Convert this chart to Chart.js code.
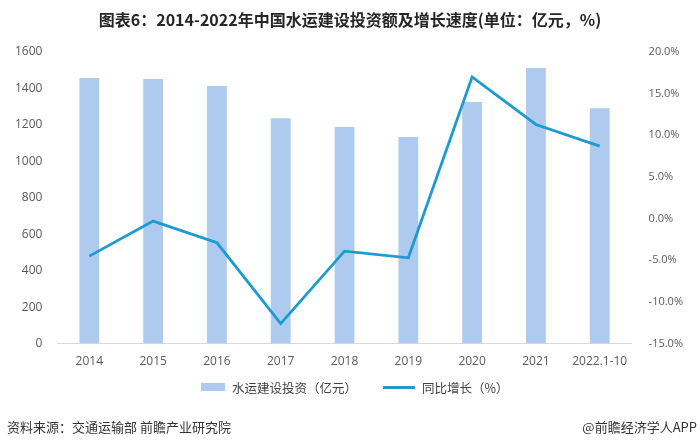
<!DOCTYPE html>
<html>
<head>
<meta charset="utf-8">
<script src="https://cdn.jsdelivr.net/npm/chart.js@4"></script>
<style>
    body { margin: 0; background: #fff; }
    #wrap { position: relative; width: 700px; height: 446px; font-family: "Noto Sans CJK SC", sans-serif; }
    #chart { position: absolute; left: 0; top: 0; }
    #title { position: absolute; top: 7px; left: 0; width: 700px; text-align: center; font-size: 16px; font-weight: bold; color: #262626; }
    .foot { position: absolute; top: 417px; font-size: 13px; color: #333; }
    #src { left: 7px; }
    #app { right: 3px; }
    #legend { position: absolute; top: 378px; left: 201px; height: 18px; display: flex; align-items: center; font-size: 12.5px; color: #404040; white-space: nowrap; }
    .swatch { display: inline-block; margin-right: 7px; }
    .item { display: flex; align-items: center; }
</style>
</head>
<body>
<div id="wrap">
    <canvas id="chart" width="700" height="446"></canvas>
    <div id="title">图表6：2014-2022年中国水运建设投资额及增长速度(单位：亿元，%)</div>
    <div id="legend"></div>
    <div class="foot" id="src">资料来源：交通运输部 前瞻产业研究院</div>
    <div class="foot" id="app">@前瞻经济学人APP</div>
</div>
<script>
// categories and values
const years = ['2014', '2015', '2016', '2017', '2018', '2019', '2020', '2021', '2022.1-10'];
const investment = [1457, 1452, 1413, 1237, 1188, 1133, 1325, 1512, 1292]; // 亿元
const growth = [-4.5, -0.3, -2.9, -12.6, -3.9, -4.7, 17.0, 11.3, 8.7]; // %

const barColor = '#aecaef';
const lineColor = '#1c9bd1';
const tickFont = { family: '"Open Sans", sans-serif', size: 12 };

const ctx = document.getElementById('chart').getContext('2d');
const chart = new Chart(ctx, {
    data: {
        labels: years,
        datasets: [{
            type: 'bar',
            label: '水运建设投资（亿元）',
            data: investment,
            backgroundColor: barColor,
            borderColor: barColor,
            barPercentage: 0.62,
            categoryPercentage: 0.5,
            yAxisID: 'y',
            order: 1
        }, {
            type: 'line',
            label: '同比增长（%）',
            data: growth,
            borderColor: lineColor,
            backgroundColor: lineColor,
            borderWidth: 2.8,
            pointRadius: 0,
            tension: 0,
            yAxisID: 'y1',
            order: 0
        }]
    },
    options: {
        responsive: false,
        animation: false,
        layout: { padding: { top: 52, left: 0, right: 0, bottom: 66 } },
        plugins: {
            tooltip: { enabled: false },
            legend: { display: false }
        },
        scales: {
            x: {
                grid: { display: false, drawTicks: false },
                border: { color: '#d9d9d9', width: 1 },
                ticks: { color: '#595959', font: tickFont, padding: 11, maxRotation: 0 }
            },
            y: {
                position: 'left',
                min: 0,
                max: 1600,
                grid: { display: false, drawTicks: false },
                border: { display: false },
                ticks: { stepSize: 200, color: '#595959', font: tickFont, padding: 15, callback: v => v }
            },
            y1: {
                position: 'right',
                min: -15,
                max: 20,
                grid: { display: false, drawTicks: false },
                border: { display: false },
                ticks: {
                    stepSize: 5,
                    color: '#595959',
                    font: { family: '"Open Sans", sans-serif', size: 11 },
                    padding: 17,
                    callback: v => v.toFixed(1) + '%'
                }
            }
        }
    }
});

// legend built from the chart's datasets
const legendEl = document.getElementById('legend');
chart.data.datasets.forEach((ds, i) => {
    const item = document.createElement('span');
    item.className = 'item';
    if (i > 0) item.style.marginLeft = '26px';
    const sw = document.createElement('span');
    sw.className = 'swatch';
    sw.style.background = ds.backgroundColor;
    sw.style.width = i === 0 ? '24px' : '32px';
    sw.style.height = i === 0 ? '8px' : '3px';
    item.appendChild(sw);
    item.appendChild(document.createTextNode(ds.label));
    legendEl.appendChild(item);
});
</script>
</body>
</html>
